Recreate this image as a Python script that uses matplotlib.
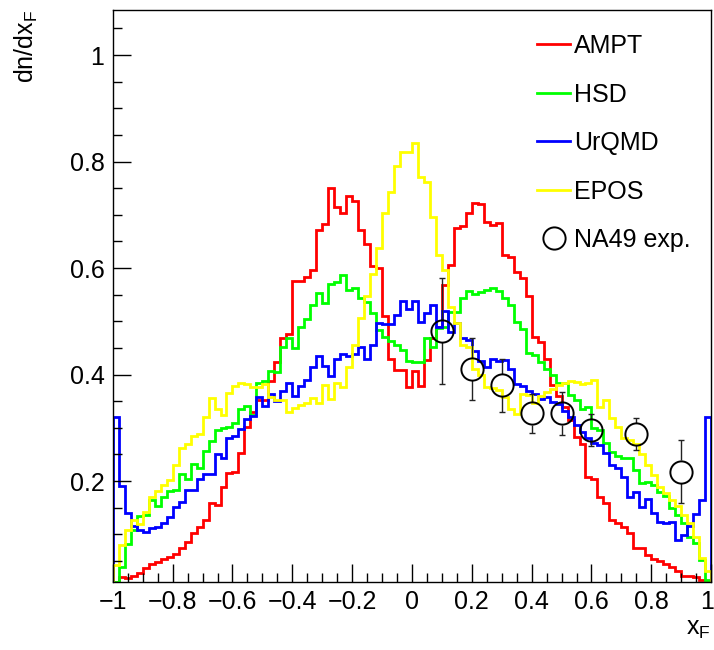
import numpy as np
import matplotlib as mpl
mpl.use('Agg')
import matplotlib.pyplot as plt
from matplotlib.transforms import ScaledTranslation

# bin edges: 100 bins over xF in [-1, 1]
edges = np.linspace(-1.0, 1.0, 101)

ampt = [
    0.011, 0.020, 0.018, 0.022, 0.028, 0.036, 0.044, 0.049, 0.053, 0.058,
    0.064, 0.075, 0.085, 0.102, 0.113, 0.127, 0.158, 0.155, 0.189, 0.216,
    0.218, 0.253, 0.302, 0.330, 0.352, 0.352, 0.388, 0.423, 0.468, 0.477,
    0.576, 0.576, 0.584, 0.596, 0.672, 0.682, 0.750, 0.714, 0.704, 0.736,
    0.726, 0.672, 0.645, 0.604, 0.600, 0.510, 0.430, 0.409, 0.409, 0.376,
    0.407, 0.378, 0.428, 0.468, 0.490, 0.568, 0.606, 0.676, 0.679, 0.703,
    0.723, 0.720, 0.687, 0.681, 0.684, 0.624, 0.621, 0.593, 0.581, 0.547,
    0.471, 0.461, 0.430, 0.380, 0.360, 0.340, 0.314, 0.283, 0.270, 0.208,
    0.203, 0.171, 0.158, 0.127, 0.121, 0.114, 0.102, 0.074, 0.074, 0.061,
    0.053, 0.050, 0.045, 0.038, 0.032, 0.022, 0.022, 0.019, 0.015, 0.013,
]

hsd = [
    0.011, 0.039, 0.082, 0.108, 0.134, 0.137, 0.165, 0.154, 0.170, 0.182,
    0.183, 0.214, 0.204, 0.233, 0.224, 0.256, 0.275, 0.296, 0.299, 0.302,
    0.309, 0.336, 0.341, 0.325, 0.385, 0.388, 0.407, 0.404, 0.452, 0.468,
    0.449, 0.490, 0.505, 0.531, 0.553, 0.535, 0.571, 0.574, 0.587, 0.559,
    0.562, 0.543, 0.537, 0.516, 0.483, 0.471, 0.463, 0.455, 0.446, 0.426,
    0.424, 0.424, 0.468, 0.452, 0.488, 0.490, 0.518, 0.518, 0.543, 0.557,
    0.552, 0.555, 0.559, 0.562, 0.557, 0.543, 0.531, 0.499, 0.485, 0.441,
    0.437, 0.424, 0.411, 0.400, 0.385, 0.385, 0.362, 0.353, 0.336, 0.339,
    0.300, 0.296, 0.271, 0.255, 0.247, 0.244, 0.244, 0.221, 0.196, 0.199,
    0.192, 0.180, 0.172, 0.149, 0.136, 0.121, 0.095, 0.083, 0.052, 0.014,
]

urqmd = [
    0.321, 0.191, 0.140, 0.115, 0.109, 0.105, 0.112, 0.114, 0.122, 0.133,
    0.151, 0.160, 0.183, 0.183, 0.204, 0.214, 0.214, 0.251, 0.243, 0.280,
    0.284, 0.297, 0.317, 0.323, 0.358, 0.341, 0.363, 0.350, 0.370, 0.384,
    0.360, 0.378, 0.390, 0.414, 0.435, 0.417, 0.397, 0.430, 0.438, 0.434,
    0.438, 0.452, 0.430, 0.455, 0.497, 0.495, 0.495, 0.512, 0.538, 0.524,
    0.538, 0.499, 0.516, 0.530, 0.490, 0.520, 0.480, 0.496, 0.468, 0.465,
    0.445, 0.425, 0.415, 0.430, 0.425, 0.428, 0.410, 0.383, 0.378, 0.370,
    0.363, 0.355, 0.358, 0.348, 0.345, 0.332, 0.320, 0.305, 0.292, 0.280,
    0.271, 0.268, 0.253, 0.230, 0.224, 0.208, 0.171, 0.180, 0.152, 0.167,
    0.140, 0.124, 0.122, 0.124, 0.089, 0.099, 0.115, 0.139, 0.164, 0.321,
]

epos = [
    0.042, 0.080, 0.109, 0.127, 0.120, 0.142, 0.170, 0.181, 0.193, 0.202,
    0.230, 0.262, 0.269, 0.284, 0.288, 0.321, 0.356, 0.336, 0.324, 0.366,
    0.378, 0.384, 0.382, 0.376, 0.376, 0.383, 0.358, 0.353, 0.353, 0.329,
    0.338, 0.343, 0.346, 0.356, 0.346, 0.381, 0.355, 0.385, 0.377, 0.415,
    0.455, 0.507, 0.547, 0.588, 0.638, 0.703, 0.743, 0.791, 0.818, 0.818,
    0.834, 0.771, 0.762, 0.696, 0.624, 0.596, 0.527, 0.496, 0.455, 0.452,
    0.410, 0.400, 0.377, 0.375, 0.371, 0.358, 0.335, 0.326, 0.363, 0.362,
    0.346, 0.360, 0.368, 0.373, 0.380, 0.385, 0.388, 0.386, 0.382, 0.385,
    0.390, 0.340, 0.353, 0.318, 0.302, 0.280, 0.277, 0.270, 0.250, 0.230,
    0.211, 0.189, 0.178, 0.164, 0.153, 0.136, 0.122, 0.095, 0.055, 0.032,
]

# NA49 measurement
na49_x = np.array([0.1, 0.2, 0.3, 0.4, 0.5, 0.6, 0.75, 0.9])
na49_y = np.array([0.482, 0.410, 0.380, 0.327, 0.327, 0.296, 0.288, 0.218])
na49_err = np.array([0.100, 0.058, 0.050, 0.037, 0.040, 0.030, 0.030, 0.059])

x_ticks = [-1, -0.8, -0.6, -0.4, -0.2, 0, 0.2, 0.4, 0.6, 0.8, 1]
x_ticklabels = ['\u22121', '\u22120.8', '\u22120.6', '\u22120.4', '\u22120.2',
                '0', '0.2', '0.4', '0.6', '0.8', '1']
y_ticks = [0.2, 0.4, 0.6, 0.8, 1.0]
y_ticklabels = ['0.2', '0.4', '0.6', '0.8', '1']

plt.rcParams['font.family'] = ['Liberation Sans', 'DejaVu Sans']
plt.rcParams['mathtext.fontset'] = 'custom'
plt.rcParams['mathtext.rm'] = 'Liberation Sans'

fig = plt.figure(figsize=(7.14, 6.5), dpi=100)
ax = fig.add_axes([0.158, 0.105, 0.838, 0.880])

lw = 2.0
ax.stairs(ampt, edges, baseline=0, color='#ff0000', lw=lw, label='AMPT')
ax.stairs(hsd, edges, baseline=0, color='#00ff00', lw=lw, label='HSD')
ax.stairs(urqmd, edges, baseline=0, color='#0000ff', lw=lw, label='UrQMD')
ax.stairs(epos, edges, baseline=0, color='#ffff00', lw=lw, label='EPOS')

# error bars stop at the edge of the open marker, like ROOT does
r = 0.021
ax.vlines(na49_x, na49_y + r, na49_y + na49_err, color='#222222', lw=1)
ax.vlines(na49_x, na49_y - na49_err, na49_y - r, color='#222222', lw=1)
ax.errorbar(na49_x, na49_y, yerr=na49_err, fmt='none', ecolor='#222222',
            elinewidth=0, capsize=2.2, capthick=1)
ax.plot(na49_x, na49_y, 'o', ms=16, mfc='none', mec='black', mew=1.4,
        ls='none', label='NA49 exp.')

ax.set_xlim(-1, 1)
ax.set_ylim(0.011, 1.085)

ax.set_xticks(x_ticks)
ax.set_xticklabels(x_ticklabels)
ax.set_xticks(np.arange(-1, 1.001, 0.05), minor=True)
ax.set_yticks(y_ticks)
ax.set_yticklabels(y_ticklabels)
ax.set_yticks(np.arange(0.05, 1.08, 0.05), minor=True)

ax.tick_params(which='both', direction='in', top=False, right=False,
               labelsize=18, width=1, color='black')
ax.tick_params(which='major', length=13)
ax.tick_params(which='minor', length=6.5)
ax.tick_params(axis='x', pad=6)
ax.tick_params(axis='y', pad=6)
for s in ax.spines.values():
    s.set_linewidth(1)

# keep the last x label inside the canvas
last = ax.get_xticklabels()[-1]
last.set_transform(last.get_transform() + ScaledTranslation(-3 / 72, 0, fig.dpi_scale_trans))

ax.set_ylabel(r'dn/dx$_\mathregular{F}$', fontsize=18, loc='top')
ax.yaxis.set_label_coords(-0.122, 1.0)
ax.set_xlabel(r'x$_\mathregular{F}$', fontsize=18, loc='right')
ax.xaxis.set_label_coords(1.0, -0.062)

leg = ax.legend(loc='upper left', bbox_to_anchor=(0.680, 0.988), frameon=False,
                fontsize=18, handlelength=1.32, handletextpad=0.15,
                labelspacing=0.98, borderaxespad=0.3)

fig.savefig('out.png', dpi=100)
plt.close(fig)
